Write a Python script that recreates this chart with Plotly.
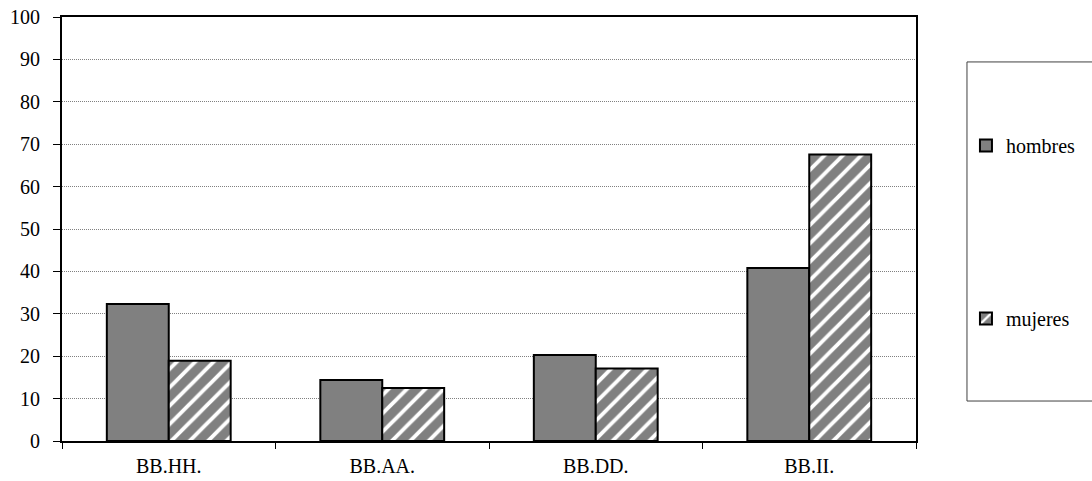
import plotly.graph_objects as go

categories = ["BB.HH.", "BB.AA.", "BB.DD.", "BB.II."]
hombres = [32.3, 14.4, 20.3, 40.8]
mujeres = [18.9, 12.5, 17.1, 67.6]
y_ticks = list(range(0, 101, 10))

FONT = "Liberation Serif, Times New Roman, serif"

fig = go.Figure()
fig.add_trace(go.Bar(
    x=categories, y=hombres, name="hombres", legendgroup="h",
    marker=dict(color="#808080", line=dict(color="black", width=2)),
))
fig.add_trace(go.Bar(
    x=categories, y=mujeres, name="mujeres", legendgroup="m",
    marker=dict(color="#808080", line=dict(color="black", width=2),
                pattern=dict(shape="/", fgcolor="white", bgcolor="#808080",
                             size=13, solidity=0.3, fillmode="replace")),
))

fig.update_layout(
    width=1092, height=481,
    margin=dict(l=62, r=176, t=17, b=40, autoexpand=False),
    paper_bgcolor="white", plot_bgcolor="white",
    barmode="group", bargap=0.42, bargroupgap=0,
    font=dict(family=FONT, size=20, color="black"),
    showlegend=True,
    legend=dict(
        x=1.0585, y=0.743, xanchor="left", yanchor="top",
        traceorder="grouped", tracegroupgap=144,
        font=dict(family=FONT, size=20, color="black"),
        bgcolor="rgba(0,0,0,0)", borderwidth=0,
        itemwidth=30,
    ),
    shapes=[dict(type="rect", xref="paper", yref="paper",
                 x0=1.0597, x1=1.22, y0=0.0943, y1=0.894,
                 line=dict(color="#404040", width=1), fillcolor="rgba(0,0,0,0)")],
)
fig.update_xaxes(
    type="category", showline=True, mirror=True, linecolor="black", linewidth=2,
    ticks="outside", tickson="boundaries", ticklen=6, tickcolor="black",
    ticklabelstandoff=6, automargin=False, ticklabeloverflow="allow",
    showgrid=False, tickfont=dict(family=FONT, size=20),
)
fig.update_yaxes(
    range=[0, 100], tickvals=y_ticks, showline=True, mirror=True,
    linecolor="black", linewidth=2, ticks="outside", ticklen=7, tickcolor="black",
    ticklabelstandoff=9, automargin=False, ticklabeloverflow="allow",
    showgrid=True, gridcolor="#808080", gridwidth=1, griddash="1px,1px",
    zeroline=False, tickfont=dict(family=FONT, size=20),
)

fig.write_html(
    "out.html",
    config={"displayModeBar": False},
    post_script="document.body.style.margin='0';document.body.style.overflow='hidden';",
)
